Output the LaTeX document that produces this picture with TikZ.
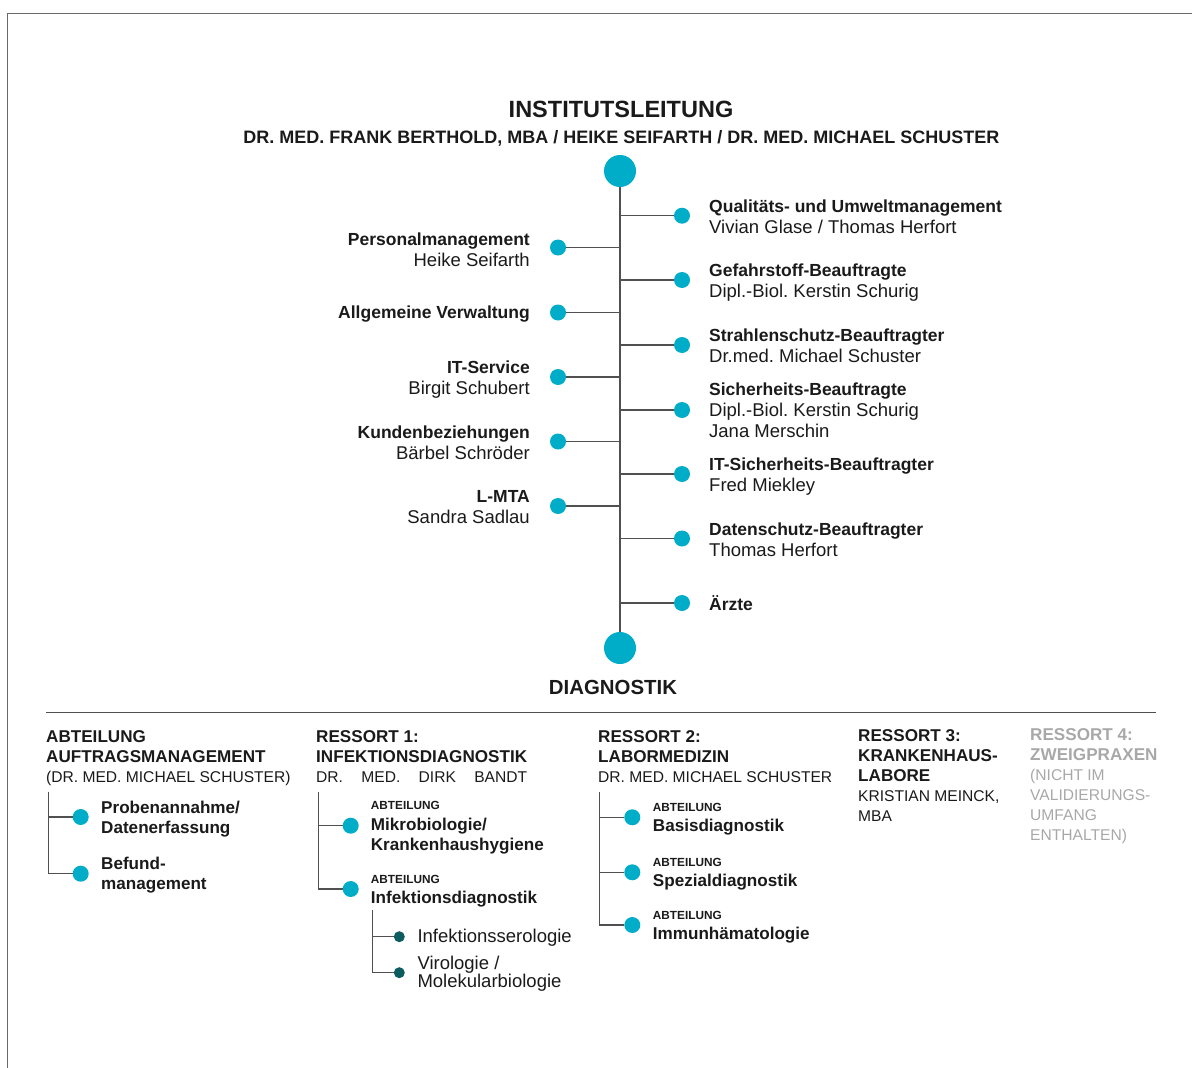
\documentclass[tikz,border=0pt]{standalone}
\usepackage{fontspec}
\setmainfont{Liberation Sans}
\usepackage{tikz}
\usetikzlibrary{arrows, positioning, calc}
\frenchspacing
\definecolor{myteal}{HTML}{00ADC9}
\definecolor{mydark}{HTML}{0D5C5F}
\definecolor{mygrey}{HTML}{A8A8A8}
\definecolor{myink}{HTML}{1A1A1A}
\definecolor{myrule}{HTML}{505050}
\newcommand\ftop{\fontsize{23.5}{28}\selectfont\bfseries}
\newcommand\fnames{\fontsize{18}{22}\selectfont\bfseries}
\newcommand\fdiag{\fontsize{20.4}{24}\selectfont\bfseries}
\newcommand\fitem{\fontsize{18.5}{21}\selectfont}
\newcommand\fcol{\fontsize{15.6}{20}\selectfont}
\newcommand\fsubs{\fontsize{18.5}{18}\selectfont}
\newcommand\hb[1]{{\fontsize{17.5}{21}\selectfont\bfseries #1}}
\newcommand\cb[1]{{\fontsize{17.1}{20}\selectfont\bfseries #1}}
\newcommand\sm[1]{{\fontsize{11.8}{14}\selectfont\bfseries #1}}
\tikzset{
   mybig/.style={circle, fill=myteal, minimum size=32pt, inner sep=0pt},
   mydot/.style={circle, fill=myteal, minimum size=16pt, inner sep=0pt},
   mysub/.style={circle, fill=mydark, minimum size=11pt, inner sep=0pt},
   myright/.style={anchor=base west, align=left, inner sep=0pt, font=\fitem, text=myink},
   myleft/.style={anchor=base east, align=right, inner sep=0pt, font=\fitem, text=myink},
   mycol/.style={anchor=base west, align=left, inner sep=0pt, font=\fcol, text=myink},
   mysubtext/.style={anchor=base west, align=left, inner sep=0pt, font=\fsubs, text=myink}
}
\begin{document}
\begin{tikzpicture}[x=1pt, y=-1pt]
         \tikzstyle{line} = [draw, myrule, line width=1.2pt]
            \useasboundingbox (0,0) rectangle (1192,1068);
            \draw [myrule!85, line width=1pt] (1192,13.7) -- (7.7,13.7) -- (7.7,1068);
            \node (lead) [font=\ftop, text=myink, anchor=base] at (621,117) {INSTITUTSLEITUNG};
            \node (heads) [font=\fnames, text=myink, anchor=base] at (621.5,143) {DR. MED. FRANK BERTHOLD, MBA / HEIKE SEIFARTH / DR. MED. MICHAEL SCHUSTER};
            \node (top) [mybig] at (620,171) {};
            \node (bot) [mybig] at (620,648) {};
            \path [line] (top) -- (bot);
            \node (r1) [mydot] at (682,215.7) {};
            \node (r2) [mydot] at (682,280) {};
            \node (r3) [mydot] at (682,345) {};
            \node (r4) [mydot] at (682,410) {};
            \node (r5) [mydot] at (682,474) {};
            \node (r6) [mydot] at (682,538.5) {};
            \node (r7) [mydot] at (682,603) {};
            \node (l1) [mydot] at (558,247.5) {};
            \node (l2) [mydot] at (558,312.5) {};
            \node (l3) [mydot] at (558,377) {};
            \node (l4) [mydot] at (558,441.5) {};
            \node (l5) [mydot] at (558,506) {};
            \path [line] (r1 -| top) -- (r1);
            \path [line] (r2 -| top) -- (r2);
            \path [line] (r3 -| top) -- (r3);
            \path [line] (r4 -| top) -- (r4);
            \path [line] (r5 -| top) -- (r5);
            \path [line] (r6 -| top) -- (r6);
            \path [line] (r7 -| top) -- (r7);
            \path [line] (l1 -| top) -- (l1);
            \path [line] (l2 -| top) -- (l2);
            \path [line] (l3 -| top) -- (l3);
            \path [line] (l4 -| top) -- (l4);
            \path [line] (l5 -| top) -- (l5);
            \node (qm) [myright] at (709,233) {\hb{Qualitäts- und Umweltmanagement}\\Vivian Glase / Thomas Herfort};
            \node (gefahr) [myright] at (709,297.5) {\hb{Gefahrstoff-Beauftragte}\\Dipl.-Biol. Kerstin Schurig};
            \node (strahl) [myright] at (709,362.5) {\hb{Strahlenschutz-Beauftragter}\\Dr.med. Michael Schuster};
            \node (sicher) [myright] at (709,437.5) {\hb{Sicherheits-Beauftragte}\\Dipl.-Biol. Kerstin Schurig\\Jana Merschin};
            \node (itsicher) [myright] at (709,491) {\hb{IT-Sicherheits-Beauftragter}\\Fred Miekley};
            \node (daten) [myright] at (709,556.5) {\hb{Datenschutz-Beauftragter}\\Thomas Herfort};
            \node (aerzte) [myright] at (709,610.5) {\hb{Ärzte}};
            \node (personal) [myleft] at (530,266) {\hb{Personalmanagement}\\Heike Seifarth};
            \node (verw) [myleft] at (530,318.5) {\hb{Allgemeine Verwaltung}};
            \node (itserv) [myleft] at (530,394) {\hb{IT-Service}\\Birgit Schubert};
            \node (kunden) [myleft] at (530,459) {\hb{Kundenbeziehungen}\\Bärbel Schröder};
            \node (lmta) [myleft] at (530,523.3) {\hb{L-MTA}\\Sandra Sadlau};
            \node (diag) [font=\fdiag, text=myink, anchor=base] at (613,694) {DIAGNOSTIK};
            \coordinate (rule1) at (46,712.3);
            \coordinate (rule2) at (1156,712.3);
            \path [line] (rule1) -- (rule2);
            \node (auftrag) [mycol] at (46,782.3) {\cb{ABTEILUNG}\\\cb{AUFTRAGSMANAGEMENT}\\(DR. MED. MICHAEL SCHUSTER)};
            \node (res1) [mycol] at (316,782.3) {\cb{RESSORT 1:}\\\cb{INFEKTIONSDIAGNOSTIK}\\\hbox to 211pt{DR.\hfill MED.\hfill DIRK\hfill BANDT}};
            \node (res2) [mycol] at (598,782.3) {\cb{RESSORT 2:}\\\cb{LABORMEDIZIN}\\DR. MED. MICHAEL SCHUSTER};
            \node (res3) [mycol] at (858,821.7) {\cb{RESSORT 3:}\\\cb{KRANKENHAUS-}\\\cb{LABORE}\\KRISTIAN MEINCK,\\MBA};
            \node (res4) [mycol, text=mygrey] at (1030,840) {\cb{RESSORT 4:}\\\cb{ZWEIGPRAXEN}\\(NICHT IM\\VALIDIERUNGS-\\UMFANG\\ENTHALTEN)};
            \coordinate (v1) at (48.3,791.7);
            \node (a1) [mydot] at (80.7,817) {};
            \node (a2) [mydot] at (80.7,873.7) {};
            \path [line] (v1) |- (a2);
            \path [line] (a1 -| v1) -- (a1);
            \node (probe) [mycol] at (101,833.3) {\cb{Probenannahme/}\\\cb{Datenerfassung}};
            \node (befund) [mycol] at (101,889.5) {\cb{Befund-}\\\cb{management}};
            \coordinate (v2) at (318.3,791.7);
            \node (b1) [mydot] at (350.7,825.7) {};
            \node (b2) [mydot] at (350.7,889) {};
            \path [line] (v2) |- (b2);
            \path [line] (b1 -| v2) -- (b1);
            \node (mikro) [mycol] at (370.7,850.7) {\sm{ABTEILUNG}\\[1.5pt]\cb{Mikrobiologie/}\\\cb{Krankenhaushygiene}};
            \node (infekt) [mycol] at (370.7,903.3) {\sm{ABTEILUNG}\\\cb{Infektionsdiagnostik}};
            \coordinate (v3) at (372.7,910);
            \node (e1) [mysub] at (399.3,936.7) {};
            \node (e2) [mysub] at (399.3,972.7) {};
            \path [line] (v3) |- (e2);
            \path [line] (e1 -| v3) -- (e1);
            \node (sero) [mysubtext] at (417.3,942.7) {Infektionsserologie};
            \node (viro) [mysubtext] at (417.3,987.3) {Virologie /\\Molekularbiologie};
            \coordinate (v4) at (599.3,791.7);
            \node (g1) [mydot] at (632.3,817.3) {};
            \node (g2) [mydot] at (632.3,872.3) {};
            \node (g3) [mydot] at (632.3,925) {};
            \path [line] (v4) |- (g3);
            \path [line] (g1 -| v4) -- (g1);
            \path [line] (g2 -| v4) -- (g2);
            \node (basis) [mycol] at (652.7,831) {\sm{ABTEILUNG}\\\cb{Basisdiagnostik}};
            \node (spezial) [mycol] at (652.7,886) {\sm{ABTEILUNG}\\\cb{Spezialdiagnostik}};
            \node (immun) [mycol] at (652.7,939.3) {\sm{ABTEILUNG}\\\cb{Immunhämatologie}};
      \end{tikzpicture}
\end{document}
